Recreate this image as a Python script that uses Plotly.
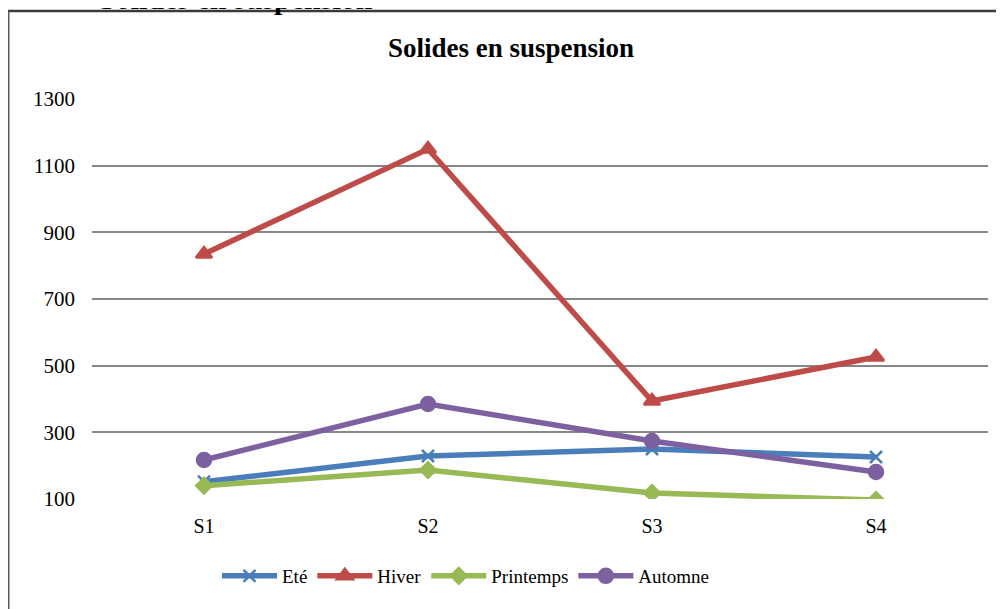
import plotly.graph_objects as go

categories = ["S1", "S2", "S3", "S4"]
ete = [152, 229, 250, 226]
hiver = [835, 1150, 394, 526]
printemps = [140, 187, 118, 97]
automne = [217, 385, 274, 181]
y_ticks = [100, 300, 500, 700, 900, 1100, 1300]

W, H = 1004, 609
OFF = 8  # page body margin
L, T = 84, 91
pw, ph = 896, 400
R = W - L - pw
B = H - T - ph

def px_x(sx):
    return (sx - OFF - L) / pw

def px_y(sy):
    return (T + ph - (sy - OFF)) / ph

serif = "Liberation Serif, Times New Roman, serif"

series = [
    ("Eté", ete, "#4A7EBB", "x-thin", 12),
    ("Hiver", hiver, "#BE4B48", "triangle-up", 14),
    ("Printemps", printemps, "#98B954", "diamond", 12),
    ("Automne", automne, "#7D60A0", "circle", 14),
]

fig = go.Figure()
for name, vals, color, sym, size in series:
    fig.add_trace(go.Scatter(
        x=categories, y=vals, name=name, mode="lines+markers",
        line=dict(color=color, width=5.5),
        marker=dict(symbol=sym, size=size, color=color,
                    line=dict(color=color, width=2.5)),
        cliponaxis=True,
    ))

fig.update_layout(
    width=W, height=H,
    margin=dict(l=L, r=R, t=T, b=B),
    paper_bgcolor="white", plot_bgcolor="white",
    font=dict(family=serif, size=20, color="#000000"),
    title=dict(text="<b>Solides en suspension</b>", x=(511 - OFF) / W, xanchor="center",
               y=1 - (48 - OFF) / H, yanchor="middle", font=dict(size=27, family=serif)),
    showlegend=True,
    legend=dict(orientation="h", x=px_x(466), xanchor="center", y=px_y(576), yanchor="middle",
                font=dict(size=19, family=serif), itemwidth=55, tracegroupgap=0,
                bgcolor="rgba(0,0,0,0)"),
    xaxis=dict(showgrid=False, showline=False, zeroline=False, ticks="",
               range=[-0.5, 3.5], ticklabelstandoff=13, tickfont=dict(size=20)),
    yaxis=dict(range=[100, 1300], tickvals=y_ticks, showgrid=True, gridcolor="#868686",
               gridwidth=2, zeroline=False, showline=False, ticks="",
               ticklabelstandoff=16, tickfont=dict(size=21)),
)

# chart border (top and left visible edges)
fig.add_shape(type="line", xref="paper", yref="paper", x0=px_x(8), x1=px_x(1020),
              y0=px_y(11), y1=px_y(11), line=dict(color="#3a3a3a", width=2.5))
fig.add_shape(type="line", xref="paper", yref="paper", x0=px_x(8), x1=px_x(8),
              y0=px_y(11), y1=px_y(620), line=dict(color="#5a5a5a", width=3))

# cut-off heading above the chart
fig.add_annotation(text="<b>Solides en suspension</b>", xref="paper", yref="paper",
                   x=px_x(97), xanchor="left", y=px_y(-2), yanchor="middle",
                   showarrow=False, font=dict(size=30, family=serif, color="#000"))

fig.write_html("out.html")
